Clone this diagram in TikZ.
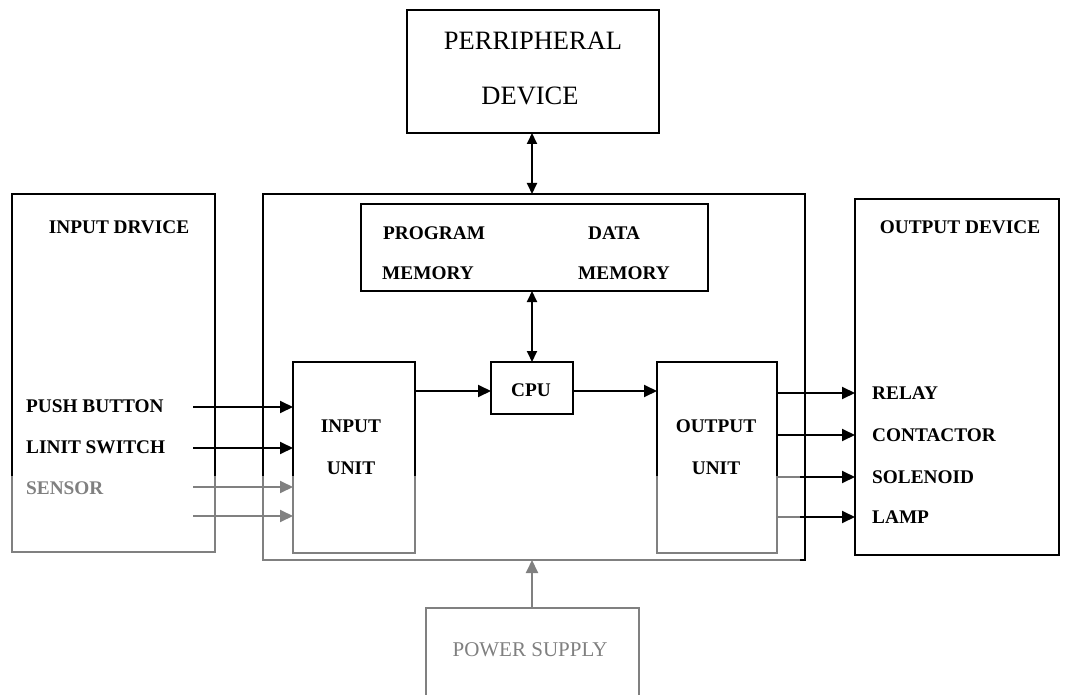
\documentclass[tikz,border=0pt]{standalone}
\usepackage{fontspec}
\setmainfont{Liberation Serif}
\usetikzlibrary{arrows.meta}
\begin{document}
\begin{tikzpicture}[x=1pt,y=-1pt,
  box/.style={draw, line width=1.8pt, inner sep=0pt, outer sep=0pt},
  lbl/.style={font=\fontsize{19.3}{22}\selectfont\bfseries, inner sep=0pt},
  big/.style={font=\fontsize{26.5}{30}\selectfont, inner sep=0pt},
  pwrfont/.style={font=\fontsize{21}{24}\selectfont, inner sep=0pt},
  arr/.style={line width=1.9pt, -{Triangle[length=13pt,width=12pt]}},
  darr/.style={line width=1.9pt, {Triangle[length=11pt,width=10pt]}-{Triangle[length=11pt,width=10pt]}}]
\useasboundingbox (0,0) rectangle (1065,695);
\begin{scope}
\clip (0,0) rectangle (1065,695);
% boxes
\node[box, minimum width=252pt, minimum height=123pt] (per) at (533,71.5) {};
\node[box, minimum width=542pt, minimum height=366pt] (main) at (534,377) {};
\node[box, minimum width=347pt, minimum height=87pt] (mem) at (534.5,247.5) {};
\node[box, minimum width=82pt, minimum height=52pt] (cpu) at (532,388) {};
\node[box, minimum width=122pt, minimum height=191pt] (inu) at (354,457.5) {};
\node[box, minimum width=120pt, minimum height=191pt] (outu) at (717,457.5) {};
\node[box, minimum width=203pt, minimum height=358pt] (indev) at (113.5,373) {};
\node[box, minimum width=204pt, minimum height=356pt] (outdev) at (957,377) {};
\node[box, minimum width=213pt, minimum height=112pt] (pwr) at (532.5,664) {};
% texts
\node[big] (pertxt1) at (533,41) {PERRIPHERAL};
\node[big] (pertxt2) at (530,96) {DEVICE};
\node[lbl, anchor=west] (prog1) at (383,233) {PROGRAM};
\node[lbl, anchor=west] (prog2) at (382,273) {MEMORY};
\node[lbl, anchor=west] (data1) at (588,233) {DATA};
\node[lbl, anchor=west] (data2) at (578,273) {MEMORY};
\node[lbl] (cputxt) at (531,390) {CPU};
\node[lbl] (inu1) at (351,426) {INPUT};
\node[lbl] (inu2) at (351,468) {UNIT};
\node[lbl] (outu1) at (716,426) {OUTPUT};
\node[lbl] (outu2) at (716,468) {UNIT};
\node[lbl] (indevtxt) at (119,227) {INPUT DRVICE};
\node[lbl] (outdevtxt) at (960,227) {OUTPUT DEVICE};
\node[pwrfont] (pwrtxt) at (530,650) {POWER SUPPLY};
% input labels
\node[lbl, anchor=west] (pb) at (26,406) {PUSH BUTTON};
\node[lbl, anchor=west] (ls) at (26,447) {LINIT SWITCH};
\node[lbl, anchor=west] (sn) at (26,488) {SENSOR};
\coordinate (a1) at (193,407);
\coordinate (a2) at (193,448);
\coordinate (a3) at (193,487);
\coordinate (a4) at (193,516);
\draw[arr] (a1) -- (a1 -| inu.west);
\draw[arr] (a2) -- (a2 -| inu.west);
\draw[arr] (a3) -- (a3 -| inu.west);
\draw[arr] (a4) -- (a4 -| inu.west);
% output labels
\node[lbl, anchor=west] (rl) at (872,393) {RELAY};
\node[lbl, anchor=west] (ct) at (872,435) {CONTACTOR};
\node[lbl, anchor=west] (sl) at (872,477) {SOLENOID};
\node[lbl, anchor=west] (lp) at (872,517) {LAMP};
\draw[arr] (outu.east |- rl.west) -- (outdev.west |- rl.west);
\draw[arr] (outu.east |- ct.west) -- (outdev.west |- ct.west);
\draw[arr] (outu.east |- sl.west) -- (outdev.west |- sl.west);
\draw[arr] (outu.east |- lp.west) -- (outdev.west |- lp.west);
% internal connections
\coordinate (f1) at (415,391);
\draw[arr] (f1) -- (f1 -| cpu.west);
\coordinate (f2) at (573,391);
\draw[arr] (f2) -- (f2 -| outu.west);
\draw[darr] (mem.south -| cpu.north) -- (cpu.north);
\draw[darr] (per.south -| cpu.north) -- (main.north -| cpu.north);
\draw[arr] (pwr.north -| cpu.north) -- (main.south -| cpu.north);
% faded lower region (as in the scan)
\fill[white, opacity=0.5] (0,476) rectangle (800,695);
\end{scope}
\end{tikzpicture}
\end{document}
